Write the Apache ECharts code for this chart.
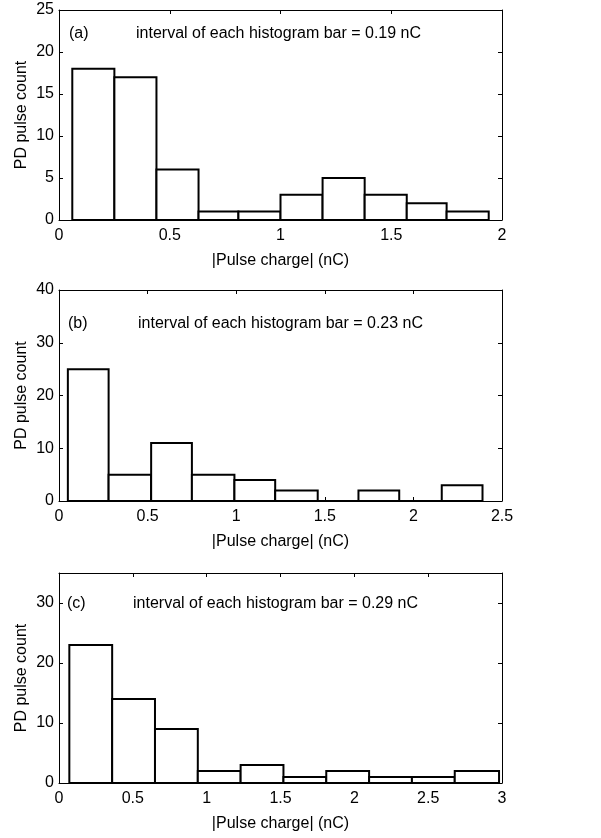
<!DOCTYPE html>
<html>
<head>
<meta charset="utf-8">
<script src="https://cdn.jsdelivr.net/npm/echarts@6/dist/echarts.min.js"></script>
<style>
  html, body { margin: 0; padding: 0; background: #fff; }
  #chart { width: 601px; height: 838px; }
</style>
</head>
<body>
<div id="chart"></div>
<script>
// bin edges (nC) and counts
var edgesA = [0.06, 0.25, 0.44, 0.63, 0.81, 1.00, 1.19, 1.38, 1.57, 1.75, 1.94];
var countsA = [18, 17, 6, 1, 1, 3, 5, 3, 2, 1];

var edgesB = [0.05, 0.28, 0.52, 0.75, 0.99, 1.22, 1.46, 1.69, 1.92, 2.16, 2.39];
var countsB = [25, 5, 11, 5, 4, 2, 0, 2, 0, 3];

var edgesC = [0.07, 0.36, 0.65, 0.94, 1.23, 1.52, 1.81, 2.10, 2.39, 2.68, 2.98];
var countsC = [23, 14, 9, 2, 3, 1, 2, 1, 1, 2];

var panelLabels = ['(a)', '(b)', '(c)'];
var intervalTexts = [
    'interval of each histogram bar = 0.19 nC',
    'interval of each histogram bar = 0.23 nC',
    'interval of each histogram bar = 0.29 nC'
];

var FONT = '"Liberation Sans", Arial, sans-serif';

function binData(edges, counts) {
    var out = [];
    for (var i = 0; i < counts.length; i++) {
        out.push([edges[i], edges[i + 1], counts[i]]);
    }
    return out;
}

function renderBin(params, api) {
    var p0 = api.coord([api.value(0), 0]);
    var p1 = api.coord([api.value(1), api.value(2)]);
    return {
        type: 'rect',
        shape: { x: p0[0], y: p1[1], width: p1[0] - p0[0], height: p0[1] - p1[1] },
        style: { fill: '#fff', stroke: '#000', lineWidth: 2 }
    };
}

// ------------------------------------------------------- //
// axes helpers (box with inward ticks on all four sides)
// ------------------------------------------------------ //
function xAxisPair(grid, max) {
    var base = {
        type: 'value', gridIndex: grid, min: 0, max: max, interval: 0.5,
        axisLine: { show: true, onZero: false, lineStyle: { color: '#000', width: 1 } },
        axisTick: { show: true, inside: true, length: 4, lineStyle: { color: '#000' } },
        splitLine: { show: false }
    };
    var bottom = Object.assign({}, base, {
        position: 'bottom',
        name: '|Pulse charge| (nC)', nameLocation: 'middle', nameGap: 33, nameMoveOverlap: false,
        nameTextStyle: { color: '#000', fontSize: 16, fontFamily: FONT },
        axisLabel: { color: '#000', fontSize: 16, fontFamily: FONT, margin: 8 }
    });
    var top = Object.assign({}, base, { position: 'top', axisLabel: { show: false } });
    return [bottom, top];
}

function yAxisPair(grid, max, interval) {
    var base = {
        type: 'value', gridIndex: grid, min: 0, max: max, interval: interval,
        axisLine: { show: true, onZero: false, lineStyle: { color: '#000', width: 1 } },
        axisTick: { show: true, inside: true, length: 4, lineStyle: { color: '#000' } },
        splitLine: { show: false }
    };
    var left = Object.assign({}, base, {
        position: 'left',
        name: 'PD pulse count', nameLocation: 'middle', nameGap: 29, nameMoveOverlap: false,
        nameTextStyle: { color: '#000', fontSize: 16, fontFamily: FONT },
        axisLabel: { color: '#000', fontSize: 16, fontFamily: FONT, margin: 5, showMaxLabel: max % interval === 0 }
    });
    var right = Object.assign({}, base, { position: 'right', axisLabel: { show: false } });
    return [left, right];
}

var grids = [
    { left: 59, right: 99, top: 10, height: 210 },
    { left: 59, right: 99, top: 290, height: 211 },
    { left: 59, right: 99, top: 573, height: 210 }
];

var xAxes = [].concat(xAxisPair(0, 2), xAxisPair(1, 2.5), xAxisPair(2, 3));
var yAxes = [].concat(yAxisPair(0, 25, 5), yAxisPair(1, 40, 10), yAxisPair(2, 35, 10));

var textTops = [26, 316, 596];
var labelLefts = [69, 68, 67];
var intervalLefts = [136, 138, 133];
var graphics = [];
for (var i = 0; i < 3; i++) {
    graphics.push({ type: 'text', left: labelLefts[i], top: textTops[i],
        style: { text: panelLabels[i], fill: '#000', font: '16px ' + FONT } });
    graphics.push({ type: 'text', left: intervalLefts[i], top: textTops[i],
        style: { text: intervalTexts[i], fill: '#000', font: '16px ' + FONT } });
}

var chart = echarts.init(document.getElementById('chart'));
chart.setOption({
    backgroundColor: '#fff',
    animation: false,
    grid: grids,
    xAxis: xAxes,
    yAxis: yAxes,
    graphic: graphics,
    series: [
        { type: 'custom', xAxisIndex: 0, yAxisIndex: 0, renderItem: renderBin,
          encode: { x: [0, 1], y: 2 }, data: binData(edgesA, countsA) },
        { type: 'custom', xAxisIndex: 2, yAxisIndex: 2, renderItem: renderBin,
          encode: { x: [0, 1], y: 2 }, data: binData(edgesB, countsB) },
        { type: 'custom', xAxisIndex: 4, yAxisIndex: 4, renderItem: renderBin,
          encode: { x: [0, 1], y: 2 }, data: binData(edgesC, countsC) }
    ]
});
</script>
</body>
</html>
